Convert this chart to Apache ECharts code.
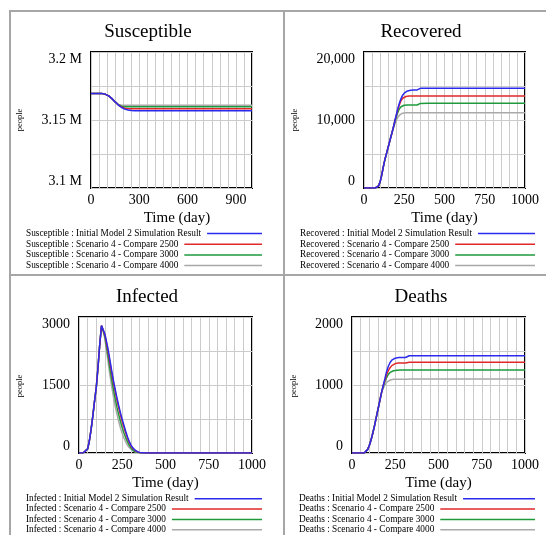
<!DOCTYPE html>
<html><head><meta charset="utf-8">
<script src="https://cdn.jsdelivr.net/npm/echarts@6/dist/echarts.min.js"></script>
<style>html,body{margin:0;padding:0;background:#fff}#c{width:546px;height:535px}</style>
</head><body><div id="c"></div>
<script>
// ---------- DATA ----------
const days = [0,25,50,60,70,80,90,100,110,120,130,140,150,160,170,180,190,200,210,220,230,240,250,260,270,280,290,300,310,320,330,340,350,360,400,500,600,700,800,900,1000];
const scenarioNames = ['Initial Model 2 Simulation Result','Scenario 4 - Compare 2500','Scenario 4 - Compare 3000','Scenario 4 - Compare 4000'];
const panelTitles = ['Susceptible','Recovered','Infected','Deaths'];
const xAxisTitle = 'Time (day)';
const yAxisTitle = 'people';

const susBlue = [3169500,3169500,3169500,3169450,3169400,3169200,3168900,3168400,3167700,3166800,
 3165700,3164500,3163300,3162100,3161000,3160000,3159200,3158500,3158000,3157600,
 3157300,3157100,3156950,3156850,3156800,3156750,3156750,3156750,3156750,3156750,
 3156750,3156750,3156750,3156750,3156750,3156750,3156750,3156750,3156750,3156750,3156750];
const susRed = [3169500,3169500,3169500,3169450,3169400,3169200,3168900,3168400,3167700,3166800,
 3165700,3164500,3163300,3162100,3161100,3160200,3159500,3159000,3158700,3158500,
 3158350,3158250,3158200,3158200,3158200,3158200,3158200,3158200,3158200,3158200,
 3158200,3158200,3158200,3158200,3158200,3158200,3158200,3158200,3158200,3158200,3158200];
const susGreen = [3169500,3169500,3169500,3169450,3169400,3169200,3168900,3168400,3167700,3166800,
 3165700,3164500,3163300,3162100,3161200,3160500,3160100,3159900,3159800,3159700,
 3159700,3159700,3159700,3159700,3159700,3159700,3159700,3159700,3159700,3159700,
 3159700,3159700,3159700,3159700,3159700,3159700,3159700,3159700,3159700,3159700,3159700];
const susGray = [3169500,3169500,3169500,3169450,3169400,3169200,3168900,3168400,3167700,3166800,
 3165700,3164500,3163300,3162200,3161500,3161100,3160900,3160800,3160800,3160800,
 3160800,3160800,3160800,3160800,3160800,3160800,3160800,3160800,3160800,3160800,
 3160800,3160800,3160800,3160800,3160800,3160800,3160800,3160800,3160800,3160800,3160800];

const recBlue = [0,0,0,0,0,60,300,900,1900,3100,
 4200,5100,6000,6900,7800,8700,9700,10700,11700,12500,
 13150,13650,13950,14150,14280,14340,14380,14400,14410,14420,
 14430,14650,14660,14660,14660,14660,14660,14660,14660,14660,14660];
const recRed = [0,0,0,0,0,60,300,900,1900,3100,
 4200,5100,6000,6900,7800,8700,9700,10600,11500,12250,
 12850,13200,13380,13460,13500,13520,13525,13530,13530,13530,
 13530,13530,13530,13530,13530,13530,13530,13530,13530,13530,13530];
const recGreen = [0,0,0,0,0,60,300,900,1900,3100,
 4200,5100,6000,6900,7800,8700,9600,10400,11100,11650,
 11950,12100,12170,12200,12210,12210,12210,12210,12210,12210,
 12210,12210,12440,12450,12450,12450,12450,12450,12450,12450,12450];
const recGray = [0,0,0,0,0,60,300,900,1900,3100,
 4200,5100,6000,6900,7800,8600,9300,9900,10400,10700,
 10900,11000,11050,11070,11080,11080,11080,11080,11080,11080,
 11080,11080,11080,11080,11080,11080,11080,11080,11080,11080,11080];

const infBlue = [0,5,90,270,520,820,1150,1450,1900,2400,
 2810,2780,2620,2440,2250,2020,1790,1580,1390,1210,
 1040,880,740,610,480,360,260,180,120,75,
 45,25,10,3,0,0,0,0,0,0,0];
const infRed = [0,5,90,270,520,820,1150,1450,1900,2400,
 2810,2790,2600,2400,2190,1960,1740,1530,1340,1160,
 990,830,690,560,440,330,240,160,105,65,
 38,20,8,2,0,0,0,0,0,0,0];
const infGreen = [0,5,90,270,520,820,1150,1450,1900,2400,
 2800,2760,2560,2320,2080,1830,1600,1380,1180,1000,
 840,690,560,440,340,250,175,115,70,42,
 22,10,4,1,0,0,0,0,0,0,0];
const infGray = [0,5,90,270,520,820,1150,1450,1900,2400,
 2790,2730,2500,2230,1960,1690,1440,1220,1020,850,
 690,550,430,330,245,175,120,78,48,28,
 15,7,3,1,0,0,0,0,0,0,0];

const deaBlue = [0,0,0,0,0,15,50,110,190,290,
 400,520,640,760,880,990,1090,1200,1275,1330,
 1365,1385,1395,1400,1403,1405,1405,1405,1405,1408,
 1430,1430,1430,1430,1430,1430,1430,1430,1430,1430,1430];
const deaRed = [0,0,0,0,0,15,50,110,190,290,
 400,520,640,760,880,990,1070,1150,1210,1255,
 1285,1305,1315,1320,1322,1322,1322,1322,1322,1322,
 1333,1333,1333,1333,1333,1333,1333,1333,1333,1333,1333];
const deaGreen = [0,0,0,0,0,15,50,110,190,290,
 400,520,640,760,880,970,1050,1110,1155,1185,
 1200,1210,1215,1218,1220,1220,1220,1220,1220,1220,
 1220,1220,1220,1220,1220,1220,1220,1220,1220,1220,1220];
const deaGray = [0,0,0,0,0,15,50,110,190,290,
 400,520,640,760,880,950,1000,1040,1060,1072,
 1080,1084,1086,1086,1086,1086,1086,1086,1086,1086,
 1088,1088,1088,1088,1088,1088,1088,1088,1088,1088,1088];

const panelValues = [
  [susBlue, susRed, susGreen, susGray],
  [recBlue, recRed, recGreen, recGray],
  [infBlue, infRed, infGreen, infGray],
  [deaBlue, deaRed, deaGreen, deaGray]
];
// axis scales: [min, max, grid interval, labelled every]
const yScales = [[3100000,3200000,25000,50000],[0,20000,5000,10000],[0,3000,750,1500],[0,2000,500,1000]];
const xLabelSteps = [300,250,250,250];
const yFormats = [
  v => (v/1e6) + ' M',
  v => v.toLocaleString('en-US'),
  v => String(v),
  v => String(v)
];

// ---------- LAYOUT / STYLE ----------
const colors = ['#2b2bef','#e0282a','#1e9a3c','#a9a9a9'];
const serif = '"Liberation Serif","Times New Roman",serif';
const grids = [
  {left:91, top:52, width:161, height:136},
  {left:364, top:52, width:161, height:136},
  {left:79, top:317, width:173, height:136},
  {left:352, top:317, width:173, height:136}
];
const titlePos = [[148,32],[421,32],[147,297],[421,297]];
const peoplePos = [[20,120],[295,120],[20,386],[294,386]];
const legendPos = [ // x text, x line end, y first row, row step
  [26,262,233.5,10.7],[300,535,233.5,10.7],[26,262,498.7,10.35],[299,535,498.7,10.35]
];
const namePad = [[0,0,0,11],[0,0,0,0],[0,0,0,0],[0,0,0,0]];

const ctx = document.createElement('canvas').getContext('2d');
const legendFont = '9.3px ' + serif;
ctx.font = legendFont;

const xAxes = [], yAxes = [], series = [], graphic = [];

// panel borders
[[10,11,546,11],[10,10,10,535],[284,10,284,535],[10,275,546,275]].forEach(l => {
  graphic.push({type:'line', shape:{x1:l[0],y1:l[1],x2:l[2],y2:l[3]}, style:{stroke:'#a6a6a6', lineWidth:2}, silent:true});
});

for (let p = 0; p < 4; p++) {
  const ys = yScales[p];
  xAxes.push({
    type:'value', gridIndex:p, min:0, max:1000, interval:50,
    axisLine:{show:false}, axisTick:{show:false},
    splitLine:{show:true, lineStyle:{color:'#cbcbcb', width:1}},
    axisLabel:{show:true, margin:5, color:'#000', fontFamily:serif, fontSize:14,
      showMaxLabel: xLabelSteps[p] === 250,
      formatter: v => (v % xLabelSteps[p] === 0 ? String(v) : '')},
    name: xAxisTitle, nameLocation:'middle', nameGap:23,
    nameTextStyle:{color:'#000', fontFamily:serif, fontSize:15, padding:namePad[p]}
  });
  yAxes.push({
    type:'value', gridIndex:p, min:ys[0], max:ys[1], interval:ys[2],
    axisLine:{show:false}, axisTick:{show:false},
    splitLine:{show:true, lineStyle:{color:'#cbcbcb', width:1}},
    axisLabel:{show:true, margin:9, color:'#000', fontFamily:serif, fontSize:14,
      verticalAlignMinLabel:'bottom', verticalAlignMaxLabel:'top',
      formatter: v => ((v - ys[0]) % ys[3] === 0 ? yFormats[p](v) : '')}
  });
  // draw gray first, blue last (on top)
  for (let s = 3; s >= 0; s--) {
    const vals = panelValues[p][s];
    series.push({
      type:'line', name: panelTitles[p] + ' : ' + scenarioNames[s],
      xAxisIndex:p, yAxisIndex:p, showSymbol:false, symbol:'none',
      data: days.map((d,i) => [d, vals[i]]),
      lineStyle:{color:colors[s], width:1.5}, itemStyle:{color:colors[s]},
      animation:false, silent:true
    });
  }
  // title
  graphic.push({type:'text', x:titlePos[p][0], y:titlePos[p][1], silent:true,
    style:{text:panelTitles[p], font:'19px ' + serif, fill:'#000', align:'center', verticalAlign:'middle'}});
  // y axis title
  graphic.push({type:'text', x:peoplePos[p][0], y:peoplePos[p][1], rotation:Math.PI/2, silent:true,
    style:{text:yAxisTitle, font:'8.5px ' + serif, fill:'#000', align:'center', verticalAlign:'middle'}});
  // legend
  const lp = legendPos[p];
  for (let s = 0; s < 4; s++) {
    const t = panelTitles[p] + ' : ' + scenarioNames[s];
    const y = lp[2] + s * lp[3];
    const w = ctx.measureText(t).width;
    graphic.push({type:'text', x:lp[0], y:y, silent:true,
      style:{text:t, font:legendFont, fill:'#000', align:'left', verticalAlign:'middle'}});
    graphic.push({type:'line', silent:true, shape:{x1:lp[0]+w+6, y1:y, x2:lp[1], y2:y},
      style:{stroke:colors[s], lineWidth:1.5}});
  }
}

const chart = echarts.init(document.getElementById('c'), null, {renderer:'canvas'});
chart.setOption({
  animation:false,
  backgroundColor:'#fff',
  grid: grids.map(g => Object.assign({show:true, borderColor:'#000', borderWidth:2, backgroundColor:'transparent'}, g)),
  xAxis: xAxes, yAxis: yAxes, series: series, graphic: graphic
});
</script>
</body></html>
